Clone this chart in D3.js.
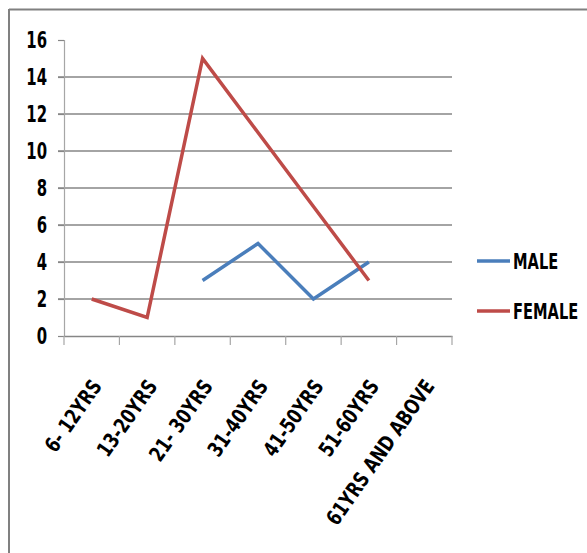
<!DOCTYPE html>
<html><head><meta charset="utf-8">
<script src="https://cdn.jsdelivr.net/npm/d3@7"></script>
<style>
html,body{margin:0;padding:0;background:#fff;}
svg text{font-family:"Liberation Sans Narrow","Arial Narrow","DejaVu Sans Condensed",sans-serif;font-weight:bold;fill:#000;}
</style></head>
<body>
<svg id="c" width="587" height="553"></svg>
<script>
const categories = ["6- 12YRS","13-20YRS","21- 30YRS","31-40YRS","41-50YRS","51-60YRS","61YRS AND ABOVE"];
const maleValues = [null,null,3,5,2,4,null];
const femaleValues = [2,1,15,11,7,3,null];
const yTicks = [0,2,4,6,8,10,12,14,16];
const seriesNames = ["MALE","FEMALE"];
const seriesColors = ["#4a7ebb","#be4b48"];

function condense(sel, f){
  sel.each(function(){
    const L = this.getComputedTextLength();
    this.setAttribute("textLength", L*f);
    this.setAttribute("lengthAdjust","spacingAndGlyphs");
  });
}

const svg = d3.select("#c");
// frame (left and top)
svg.append("line").attr("x1",9).attr("x2",587).attr("y1",9.5).attr("y2",9.5).attr("stroke","#808080").attr("stroke-width",2);
svg.append("line").attr("x1",9).attr("x2",9).attr("y1",9).attr("y2",553).attr("stroke","#808080").attr("stroke-width",2);

const x = d3.scaleBand().domain(categories).range([64,452]);
const y = d3.scaleLinear().domain([0,16]).range([336,40]);

// gridlines
svg.append("g").selectAll("line").data(yTicks.filter(t=>t>0 && t<16)).join("line")
  .attr("x1",58).attr("x2",452).attr("y1",d=>y(d)).attr("y2",d=>y(d))
  .attr("stroke","#868686").attr("stroke-width",1.5);

// y axis
const yAxis = svg.append("g").attr("transform","translate(64,0)")
  .call(d3.axisLeft(y).tickValues(yTicks).tickSize(6).tickPadding(11));
yAxis.select(".domain").attr("stroke","#a6a6a6").attr("stroke-width",1.2);
yAxis.selectAll(".tick line").attr("stroke","#868686").attr("stroke-width",1.2);
yAxis.selectAll(".tick text").style("font-size","23px").attr("fill","#000").call(condense,0.72);

// x axis
const xAxis = svg.append("g").attr("transform","translate(0,336)")
  .call(d3.axisBottom(x).tickValues([]).tickSizeOuter(0));
xAxis.select(".domain").attr("stroke","#868686").attr("stroke-width",1.5);
const edges = categories.map(c=>x(c)).concat([x.range()[1]]);
svg.append("g").selectAll("line").data(edges).join("line")
  .attr("x1",d=>d).attr("x2",d=>d).attr("y1",336).attr("y2",345)
  .attr("stroke","#a6a6a6").attr("stroke-width",1.2);

svg.append("g").selectAll("text").data(categories).join("text")
  .attr("transform",d=>`translate(${x(d)+x.bandwidth()/2+5},382) rotate(-55)`)
  .attr("text-anchor","end").attr("dy","0.35em")
  .style("font-size","21px").text(d=>d).call(condense,0.86);

// lines
const line = d3.line().defined(d=>d.v!==null)
  .x(d=>x(d.c)+x.bandwidth()/2).y(d=>y(d.v));
[maleValues,femaleValues].forEach((vals,i)=>{
  svg.append("path").datum(categories.map((c,j)=>({c,v:vals[j]})))
    .attr("d",line).attr("fill","none").attr("stroke",seriesColors[i])
    .attr("stroke-width",3.5).attr("stroke-linejoin","miter");
});

// legend
const legY = [261,311];
seriesNames.forEach((n,i)=>{
  svg.append("line").attr("x1",477).attr("x2",510).attr("y1",legY[i]).attr("y2",legY[i])
    .attr("stroke",seriesColors[i]).attr("stroke-width",3.5);
  svg.append("text").attr("transform",`translate(513,${legY[i]+7.5}) scale(0.74,1)`)
    .style("font-size","22px").text(n);
});
</script>
</body></html>
